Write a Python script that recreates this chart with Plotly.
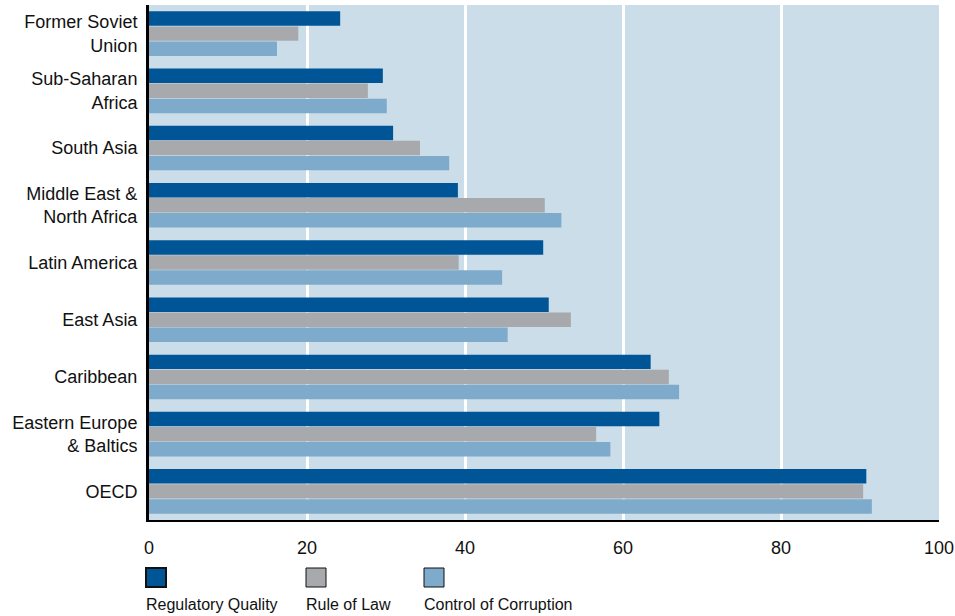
import plotly.graph_objects as go

regions = [
    "Former Soviet<br>Union",
    "Sub-Saharan<br>Africa",
    "South Asia",
    "Middle East &<br>North Africa",
    "Latin America",
    "East Asia",
    "Caribbean",
    "Eastern Europe<br>& Baltics",
    "OECD",
]
regulatory_quality = [24.2, 29.6, 30.9, 39.1, 49.9, 50.6, 63.5, 64.6, 90.8]
rule_of_law = [18.9, 27.7, 34.3, 50.1, 39.2, 53.4, 65.8, 56.6, 90.4]
control_of_corruption = [16.2, 30.1, 38.0, 52.2, 44.7, 45.4, 67.1, 58.4, 91.5]

series_names = ["Regulatory Quality", "Rule of Law", "Control of Corruption"]
series_values = [regulatory_quality, rule_of_law, control_of_corruption]
series_colors = ["#005596", "#a7a9ac", "#7eaacb"]
x_ticks = [0, 20, 40, 60, 80, 100]

FONT = "Liberation Sans, Arial, Helvetica, sans-serif"
TEXT = "#111111"

fig = go.Figure()
for name, vals, col in zip(series_names, series_values, series_colors):
    fig.add_trace(go.Bar(
        y=regions, x=vals, name=name, orientation="h",
        marker=dict(color=col, line=dict(width=0)),
        showlegend=False,
    ))

fig.update_layout(
    width=955, height=616,
    margin=dict(l=149, r=16, t=5, b=96),
    paper_bgcolor="white",
    plot_bgcolor="#cbdde9",
    barmode="group",
    bargap=0.21,
    bargroupgap=0.04,
    font=dict(family=FONT, size=18, color=TEXT),
    xaxis=dict(
        range=[0, 100], tickvals=x_ticks, ticktext=[str(v) for v in x_ticks],
        showgrid=True, gridcolor="white", gridwidth=3,
        zeroline=False, showline=True, linecolor="black", linewidth=2,
        ticks="", ticklabelstandoff=10, automargin=False,
        tickfont=dict(size=18, family=FONT, color=TEXT),
        fixedrange=True,
    ),
    yaxis=dict(
        categoryorder="array", categoryarray=regions,
        autorange="reversed",
        showgrid=False, zeroline=False,
        showline=True, linecolor="black", linewidth=3,
        ticks="", ticklabelstandoff=5, automargin=False,
        tickfont=dict(size=18, family=FONT, color=TEXT),
        fixedrange=True,
    ),
)

# Legend: coloured squares with captions underneath
legend_x = [146, 306, 424]
border_w = [2, 1, 1]
for name, col, lx, bw in zip(series_names, series_colors, legend_x, border_w):
    fig.add_shape(
        type="rect", xref="paper", yref="paper",
        x0=(lx - 149) / 790, x1=(lx + 20 - 149) / 790,
        y0=(520 - 587) / 515, y1=(520 - 568) / 515,
        fillcolor=col, line=dict(color="#111111", width=bw),
    )
    fig.add_annotation(
        xref="paper", yref="paper",
        x=(lx - 2 - 149) / 790, y=(520 - 604) / 515,
        xanchor="left", yanchor="middle",
        text=name, showarrow=False,
        font=dict(size=16, family=FONT, color=TEXT),
    )

fig.write_html("out.html")
